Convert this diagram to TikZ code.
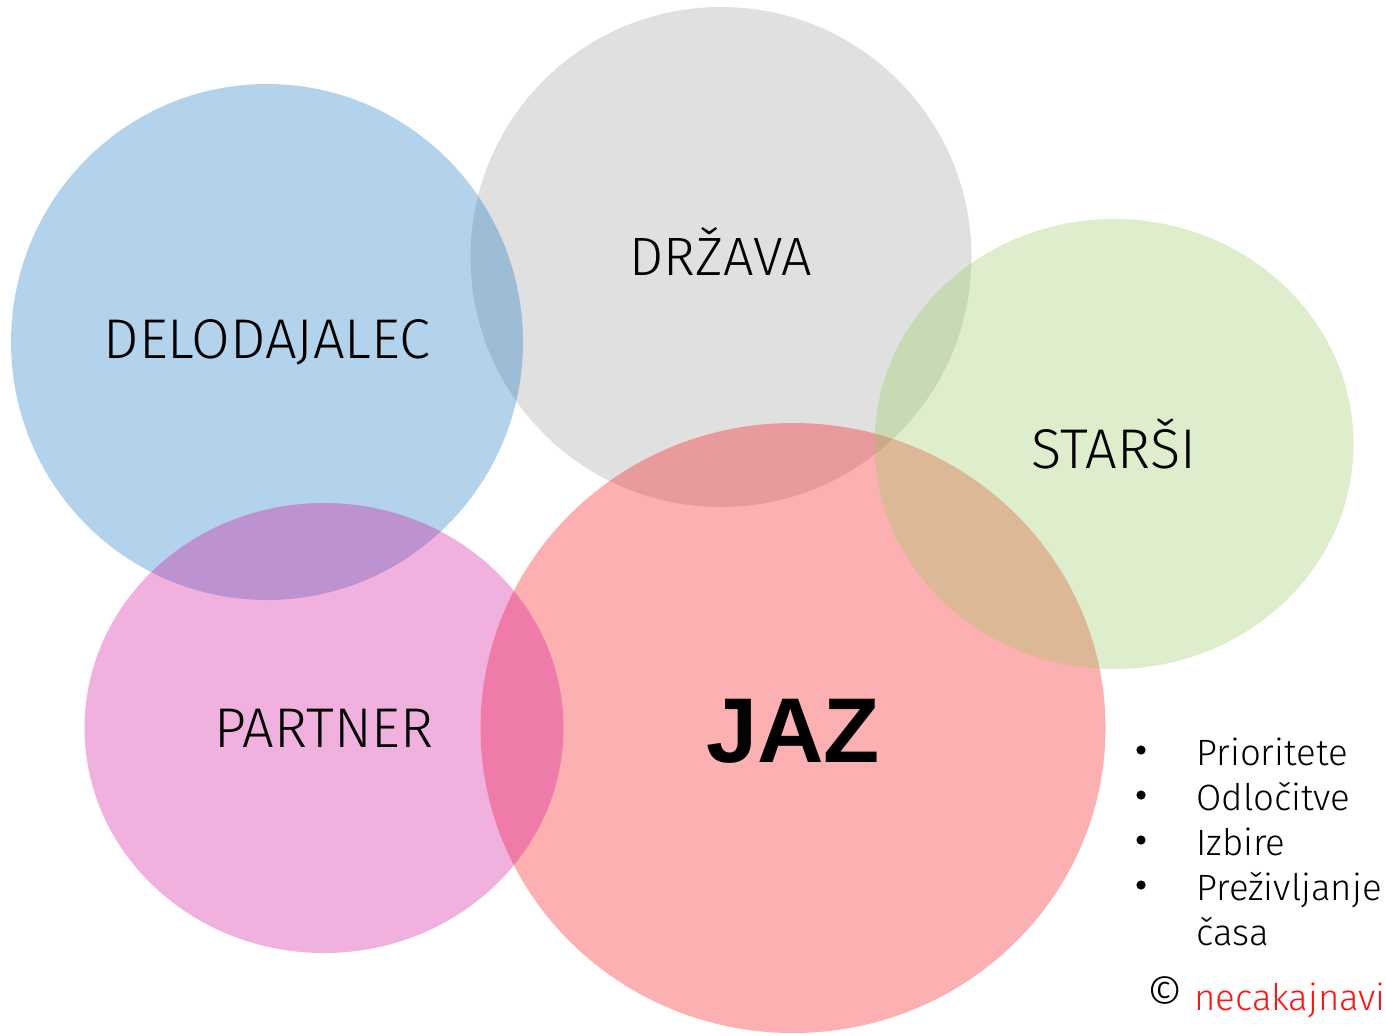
\documentclass[tikz,border=0pt]{standalone}
\usepackage{fontspec}
\setmainfont{Fira Sans Light}
\newfontfamily\jazfont{Liberation Sans}
\usetikzlibrary{shapes.geometric}

\definecolor{skyblue}{RGB}{18,117,196}
\definecolor{midgray}{RGB}{158,158,158}
\definecolor{leafgreen}{RGB}{152,202,96}
\definecolor{magenta}{RGB}{211,14,152}
\definecolor{crimson}{RGB}{249,8,14}
\definecolor{brandred}{RGB}{255,20,20}

\tikzset{
    blob/.style={ellipse, inner sep=0pt, fill opacity=0.32, text opacity=1, font=\fontsize{28}{32}\selectfont},
    item/.style={anchor=base west, inner sep=0pt, font=\fontsize{18.3}{22}\selectfont},
    dot/.style={circle, fill=black, inner sep=0pt, minimum size=4.6pt}
}

\begin{document}
\begin{tikzpicture}[x=0.5pt,y=-0.5pt]
    \useasboundingbox (0,0) rectangle (1386,1035);

    % the five circles (order matters for the overlaps)
    \node[blob, fill=midgray, minimum width=250.5pt, minimum height=250pt] (drzava) at (721,257) {};
    \node[blob, fill=skyblue, minimum width=256pt, minimum height=258pt] (delodajalec) at (267,342) {DELODAJALEC};
    \node[blob, fill=crimson, minimum width=312.5pt, minimum height=305pt] (jaz) at (793,728) {};
    \node[blob, fill=magenta, minimum width=239.5pt, minimum height=225pt] (partner) at (324,728) {PARTNER};
    \node[blob, fill=leafgreen, minimum width=239.5pt, minimum height=225pt] (starsi) at (1114,444) {STARŠI};

    % labels on top
    \node[font=\fontsize{27}{32}\selectfont] (drzavatxt) at (721,252) {DRŽAVA};
    \node[font=\jazfont\bfseries\fontsize{46}{50}\selectfont] (jaztxt) at (793,731) {JAZ};

    % list on the right
    \foreach \txt [count=\i] in {Prioritete, Odločitve, Izbire, Preživljanje} {
        \node[dot] (dot\i) at (1141,705+45*\i) {};
        \node[item] (item\i) at (1196,720+45*\i) {\txt};
    }
    \node[item] (item5) at (1196,945) {časa};

    % signature
    \node[item, anchor=base east] (sig) at (1386,1010) {{\fontsize{23}{24}\selectfont ©} \textcolor{brandred}{necakajnavi}};
\end{tikzpicture}
\end{document}
